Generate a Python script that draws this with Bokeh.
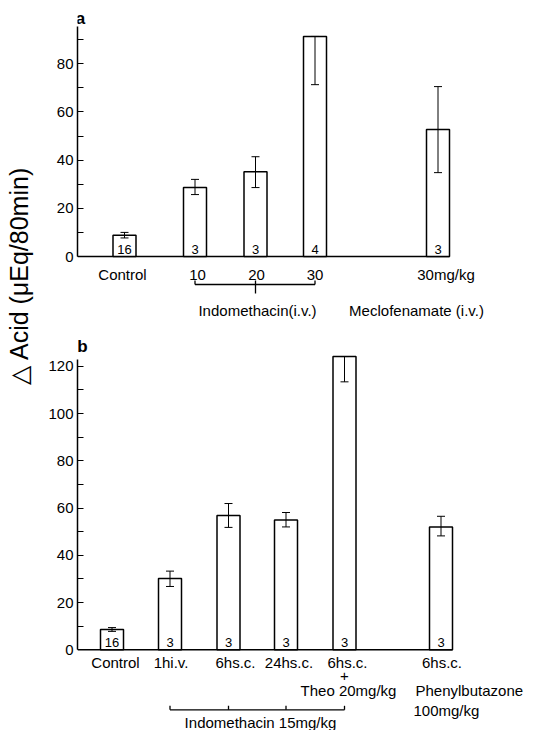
import math
from bokeh.plotting import figure
from bokeh.models import Range1d, Whisker, ColumnDataSource, TeeHead, FixedTicker
from bokeh.layouts import row, column
from bokeh.embed import file_html
from bokeh.resources import INLINE
from bokeh.core.properties import value

FONT = "Liberation Sans"

# ---------------- data: panel a ----------------
a_labels = ["Control", "10", "20", "30", "30mg/kg"]
a_values = [8.8, 28.6, 35.2, 91.3, 52.7]
a_err_lo = [7.7, 25.7, 28.6, 71.3, 34.8]
a_err_hi = [10.0, 32.0, 41.4, 91.3, 70.5]
a_n = ["16", "3", "3", "4", "3"]
a_ticks = [0, 20, 40, 60, 80]
a_minor = [10, 30, 50, 70, 90]

# ---------------- data: panel b ----------------
b_labels = ["Control", "1hi.v.", "6hs.c.", "24hs.c.", "6hs.c.", "6hs.c."]
b_values = [8.6, 30.2, 56.8, 54.9, 124.1, 52.0]
b_err_lo = [7.8, 26.8, 51.8, 52.0, 113.4, 48.2]
b_err_hi = [9.4, 33.3, 61.9, 58.1, 124.1, 56.5]
b_n = ["16", "3", "3", "3", "3", "3"]
b_ticks = [0, 20, 40, 60, 80, 100, 120]
b_minor = [10, 30, 50, 70, 90, 110]

y_title = "\u25b3 Acid (\u03bcEq/80min)"

# ---------------- layout (screen pixels) ----------------
BAR_W = 23
a_x = [124, 194.5, 255, 314.5, 437.5]
a_lab_dx = [-2, 2.5, 1, 0, 8]
b_x = [111.5, 169.5, 228, 285.5, 344, 440.5]
b_lab_dx = [3.5, 1, 7, 3, 3, 1]

LEFT_W = 38
FIG_W = 487
AXIS_X = 77  # page x of the y axis
H_A = 325
H_B = 405


def base_fig(height, ppu, zero_from_top, axis_top, ticks, minor):
    y_top = zero_from_top / ppu
    y_bot = -(height - zero_from_top) / ppu
    border = AXIS_X - LEFT_W
    p = figure(width=FIG_W, height=height, output_backend="svg", toolbar_location=None,
               x_range=Range1d(AXIS_X, AXIS_X + FIG_W - border),
               y_range=Range1d(y_bot, y_top),
               min_border_left=border, min_border_right=0,
               min_border_top=0, min_border_bottom=0)
    p.outline_line_color = None
    p.xaxis.visible = False
    p.xgrid.visible = False
    p.ygrid.visible = False
    ax = p.yaxis[0]
    ax.ticker = FixedTicker(ticks=ticks, minor_ticks=minor)
    ax.bounds = (0, axis_top)
    ax.major_tick_in = 6
    ax.major_tick_out = 0
    ax.minor_tick_in = 6
    ax.minor_tick_out = 0
    ax.major_tick_line_width = 1.2
    ax.minor_tick_line_width = 1.2
    ax.axis_line_width = 1.5
    ax.axis_line_color = "black"
    ax.major_tick_line_color = "black"
    ax.minor_tick_line_color = "black"
    ax.major_label_standoff = 4
    ax.major_label_text_font = FONT
    ax.major_label_text_font_size = "15px"
    ax.major_label_text_color = "black"
    return p


def bars(p, xs, vals, lo, hi, ns):
    p.segment(x0=[p.x_range.start], y0=[0], x1=[xs[-1] + BAR_W / 2], y1=[0],
              line_color="black", line_width=1.5)
    p.vbar(x=xs, top=vals, bottom=0, width=BAR_W, fill_color="white",
           line_color="black", line_width=1.5)
    src = ColumnDataSource(dict(x=xs, lo=lo, hi=hi))
    w = Whisker(source=src, base="x", lower="lo", upper="hi", line_width=1,
                line_color="black",
                upper_head=TeeHead(size=8, line_width=1, line_color="black"),
                lower_head=TeeHead(size=8, line_width=1, line_color="black"),
                level="overlay")
    p.add_layout(w)
    p.text(x=xs, y=[0] * len(xs), text=ns, text_align="center", text_baseline="middle",
           y_offset=-7, text_font=value(FONT), text_font_size="13px", text_color="black")


def label(p, x, y, txt, size="15px", align="center", baseline="middle", style="normal", yoff=0):
    p.text(x=[x], y=[y], text=[txt], text_align=align, text_baseline=baseline,
           text_font=value(FONT), text_font_size=size, text_font_style=style,
           text_color="black", y_offset=yoff)


# ---------------- panel a ----------------
PPU_A = 2.41
ZA = 256
pa = base_fig(H_A, PPU_A, ZA, 95.4, a_ticks, a_minor)
bars(pa, a_x, a_values, a_err_lo, a_err_hi, a_n)
for x, dx, t in zip(a_x, a_lab_dx, a_labels):
    label(pa, x + dx, 0, t, yoff=18)
by = -28 / PPU_A
pa.segment(x0=[a_x[1], a_x[1], a_x[3], a_x[2]],
           y0=[by, by, by, -24 / PPU_A],
           x1=[a_x[3], a_x[1], a_x[3], a_x[2]],
           y1=[by, -24 / PPU_A, -24 / PPU_A, -37 / PPU_A],
           line_color="black", line_width=1.3)
label(pa, a_x[2] + 2, 0, "Indomethacin(i.v.)", yoff=54)
label(pa, a_x[4] - 21.5, 0, "Meclofenamate (i.v.)", yoff=54)
label(pa, 80, (ZA - 18) / PPU_A, "a", size="17px", baseline="alphabetic", style="bold")

# ---------------- panel b ----------------
PPU_B = 2.363
ZB = 649.3 - H_A
pb = base_fig(H_B, PPU_B, ZB, 123, b_ticks, b_minor)
bars(pb, b_x, b_values, b_err_lo, b_err_hi, b_n)
for x, dx, t in zip(b_x, b_lab_dx, b_labels):
    label(pb, x + dx, 0, t, yoff=13)
label(pb, b_x[4], 0, "+", yoff=26)
label(pb, b_x[4] + 4, 0, "Theo 20mg/kg", yoff=41)
label(pb, 415, 0, "Phenylbutazone", align="left", yoff=41)
label(pb, 413, 0, "100mg/kg", align="left", yoff=61)
bb = -60 / PPU_B
bt = -56 / PPU_B
pb.segment(x0=[b_x[1]] + b_x[1:5],
           y0=[bb] + [bb] * 4,
           x1=[b_x[4]] + b_x[1:5],
           y1=[bb] + [bt] * 4,
           line_color="black", line_width=1.3)
label(pb, 260, 0, "Indomethacin 15mg/kg", yoff=73)
label(pb, 82, (ZB - 21) / PPU_B, "b", size="17px", baseline="alphabetic", style="bold")

# ---------------- shared y title ----------------
H_L = H_A + H_B
pl = figure(width=LEFT_W, height=H_L, output_backend="svg", toolbar_location=None,
            x_range=Range1d(0, LEFT_W), y_range=Range1d(0, H_L),
            min_border_left=0, min_border_right=0, min_border_top=0, min_border_bottom=0)
pl.outline_line_color = None
pl.axis.visible = False
pl.grid.visible = False
pl.text(x=[18.5], y=[H_L - 275], text=[y_title], angle=math.pi / 2,
        text_align="center", text_baseline="middle",
        text_font=value(FONT), text_font_size="25px", text_color="black")

layout = row(pl, column(pa, pb))
open("out.html", "w").write(file_html(layout, INLINE))
